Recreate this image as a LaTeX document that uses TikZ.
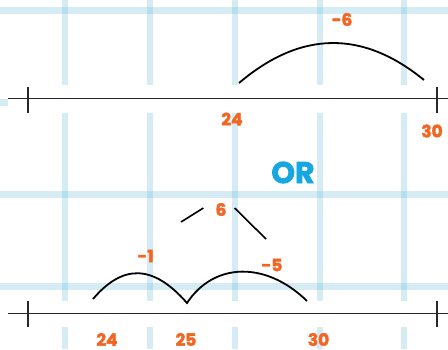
\documentclass[tikz,border=0pt]{standalone}
\usepackage{fontspec}
\setmainfont{Poppins}
\newfontfamily\numfont{Poppins}[FakeBold=2.2]
\usepackage{tikz}

\definecolor{gridblue}{RGB}{84,178,212}
\definecolor{numorange}{RGB}{242,101,34}
\definecolor{orblue}{RGB}{20,167,224}
\definecolor{linegray}{RGB}{40,40,40}

\tikzset{
    gridline/.style={fill=gridblue, fill opacity=0.24},
    numline/.style={draw=linegray, line width=1.6pt},
    jump/.style={draw=black, line width=1.8pt},
    num/.style={text=numorange, font=\numfont\fontsize{17}{17}\selectfont\bfseries, inner sep=0pt},
}

\begin{document}
\begin{tikzpicture}[x=1pt,y=-1pt]
    \useasboundingbox (0,0) rectangle (448,349);
    \fill[white] (0,0) rectangle (448,349);
    % grid
    \foreach \gx in {65,150,234.5,319.5,403.5}
        \fill[gridline] (\gx-3,0) rectangle (\gx+3,349);
    \foreach \gy in {10,102,194.5,286.5}
        \fill[gridline] (0,\gy-3.5) rectangle (448,\gy+3.5);
    \fill[white] (8,85) rectangle (448,113);
    \fill[white] (0,301) rectangle (448,327);

    % first number line
    \draw[numline] (8,98.5) -- (448,98.5);
    \draw[numline] (28,87) -- (28,113);
    \draw[numline] (437,87) -- (437,113);
    \draw[jump] (239,83) .. controls (300.7,30.7) and (362.3,29.7) .. (424,80);
    \node[num] (a24) at (232,119) {24};
    \node[num] (a30) at (432,131) {30};
    \node[num] (am6) at (342,19.5) {-6};

    \node[text=orblue, font=\numfont\fontsize{30}{30}\selectfont\bfseries, inner sep=0pt] (or) at (293,172.5) {OR};

    % second number line
    \draw[numline] (8,313.5) -- (448,313.5);
    \draw[numline] (28,301) -- (28,327);
    \draw[numline] (437,301) -- (437,327);
    \draw[jump] (93,299) .. controls (122,265) and (152,263) .. (187,303)
        .. controls (214,262) and (266,261) .. (307,301);
    \node[num] (b24) at (107,339.5) {24};
    \node[num] (b25) at (186,339.5) {25};
    \node[num] (b30) at (318.5,339.5) {30};
    \node[num] (bm1) at (145.5,256) {-1};
    \node[num] (bm5) at (272,265) {-5};
    \node[num] (b6) at (221,209.5) {6};
    \coordinate (l1) at (181,222);
    \coordinate (l2) at (266,239);
    \draw[line width=1.6pt] (b6.west) ++(-12,-1.5) -- (l1);
    \draw[line width=1.6pt] (b6.east) ++(8,-1.5) -- (l2);
\end{tikzpicture}
\end{document}
